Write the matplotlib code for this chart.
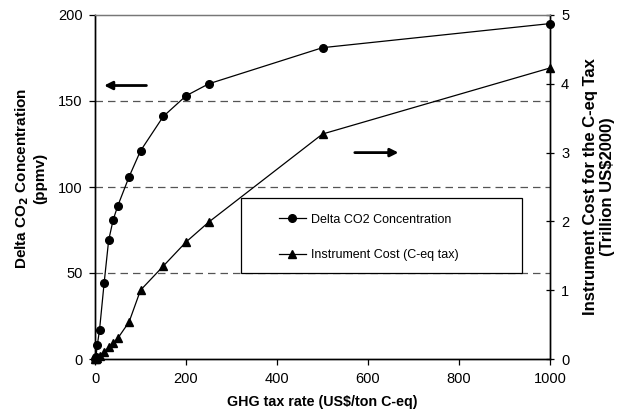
import matplotlib
matplotlib.use("Agg")
import matplotlib.pyplot as plt
from matplotlib.patches import Rectangle

plt.rcParams['font.family'] = ['Liberation Sans', 'DejaVu Sans']

# GHG tax rate (US$/ton C-eq)
tax_rate = [0, 2, 5, 10, 20, 30, 40, 50, 75, 100, 150, 200, 250, 500, 1000]
# Delta CO2 concentration (ppmv)
delta_co2 = [0, 1, 8, 17, 44, 69, 81, 89, 106, 121, 141, 153, 160, 181, 195]
# Instrument cost for the C-eq tax (trillion US$2000)
inst_cost = [0, 0.0, 0.02, 0.05, 0.10, 0.17, 0.23, 0.30, 0.54, 1.0, 1.35, 1.70, 1.99, 3.27, 4.23]

x_ticks = [0, 200, 400, 600, 800, 1000]
left_ticks = [0, 50, 100, 150, 200]
right_ticks = [0, 1, 2, 3, 4, 5]

fig = plt.figure(figsize=(6.18, 4.15), dpi=100)
ax = fig.add_axes([95 / 618, 56 / 415, 455 / 618, 344 / 415])
ax2 = ax.twinx()

for yv in [50, 100, 150]:
    ax.axhline(yv, color='#555555', lw=0.9, dashes=(6, 4), zorder=1)

l1, = ax.plot(tax_rate, delta_co2, color='black', lw=0.9, marker='o',
              markersize=5.5, zorder=3, clip_on=False)
l2, = ax2.plot(tax_rate, inst_cost, color='black', lw=0.9, marker='^',
               markersize=6, zorder=3, clip_on=False)

ax.set_xlim(0, 1000)
ax.set_ylim(0, 200)
ax2.set_ylim(0, 5)
ax.set_xticks(x_ticks)
ax.set_yticks(left_ticks)
ax2.set_yticks(right_ticks)

for a in (ax, ax2):
    a.spines['top'].set_color('#777777')
    a.spines['top'].set_linewidth(0.9)
    for s in ('left', 'right', 'bottom'):
        a.spines[s].set_linewidth(1.0)

ax.tick_params(axis='x', direction='out', length=4, width=0.9,
               labelsize=10.5, pad=5)
ax.tick_params(axis='y', direction='out', length=4, width=0.9,
               labelsize=10.5, pad=5)
ax2.tick_params(axis='y', direction='inout', length=6, width=0.9,
                labelsize=10.5, pad=5)

ax.set_xlabel('GHG tax rate (US$/ton C-eq)', fontsize=10.3,
              fontweight='bold', labelpad=7)
ax.set_ylabel('Delta CO$_\\mathbf{2}$ Concentration\n(ppmv)', fontsize=11,
              fontweight='bold', linespacing=1.2)
ax.yaxis.set_label_coords(-0.105, 0.526)
ax2.set_ylabel('Instrument Cost for the C-eq Tax\n(Trillion US\\$2000)',
               fontsize=12, fontweight='bold', labelpad=10,
               rotation=90, linespacing=1.15)

# direction arrows pointing to each series' axis
ax.annotate('', xy=(20, 159), xytext=(113, 159),
            arrowprops=dict(arrowstyle='-|>', color='black', lw=2,
                            mutation_scale=12, shrinkA=0, shrinkB=0))
ax2.annotate('', xy=(667, 3.0), xytext=(571, 3.0),
             arrowprops=dict(arrowstyle='-|>', color='black', lw=2,
                             mutation_scale=12, shrinkA=0, shrinkB=0))

# legend box
box = Rectangle((0.321, 0.25), 0.617, 0.218, transform=ax2.transAxes,
                facecolor='white', edgecolor='black', lw=0.9, zorder=4)
ax2.add_patch(box)
leg = ax2.legend([l1, l2], ['Delta CO2 Concentration', 'Instrument Cost (C-eq tax)'],
                 loc='center left', bbox_to_anchor=(0.405, 0.353),
                 frameon=False, fontsize=9, handlelength=2.1,
                 handletextpad=0.4, labelspacing=1.9, borderpad=0,
                 borderaxespad=0)
leg.set_zorder(5)

fig.savefig('out.png', dpi=100)
